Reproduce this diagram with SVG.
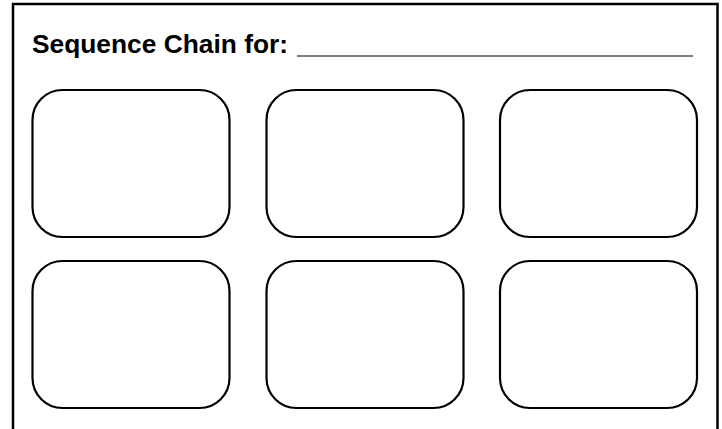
<svg xmlns="http://www.w3.org/2000/svg" width="722" height="429" viewBox="0 0 722 429">
<style>
.box{fill:#fff;stroke:#000;stroke-width:2.2}
.title{font-family:"Liberation Sans",Arial,sans-serif;font-weight:bold;font-size:26.5px;fill:#000}
</style>
<rect x="0" y="0" width="722" height="429" fill="#fff"/>
<rect id="frame" x="13" y="4" width="704.5" height="440" fill="none" stroke="#000" stroke-width="2.5"/>
<g id="title">
<text class="title" x="32" y="53" textLength="256" lengthAdjust="spacingAndGlyphs">Sequence Chain for:</text>
<line x1="297" y1="56" x2="693" y2="56" stroke="#555" stroke-width="1.6"/>
</g>
<g id="box1"><rect class="box" x="32.5" y="90" width="197" height="147" rx="30" ry="30"/></g>
<g id="box2"><rect class="box" x="266.5" y="90" width="197" height="147" rx="30" ry="30"/></g>
<g id="box3"><rect class="box" x="500" y="90" width="197" height="147" rx="30" ry="30"/></g>
<g id="box4"><rect class="box" x="32.5" y="261" width="197" height="147" rx="30" ry="30"/></g>
<g id="box5"><rect class="box" x="266.5" y="261" width="197" height="147" rx="30" ry="30"/></g>
<g id="box6"><rect class="box" x="500" y="261" width="197" height="147" rx="30" ry="30"/></g>
<g id="connectors"></g>
</svg>
